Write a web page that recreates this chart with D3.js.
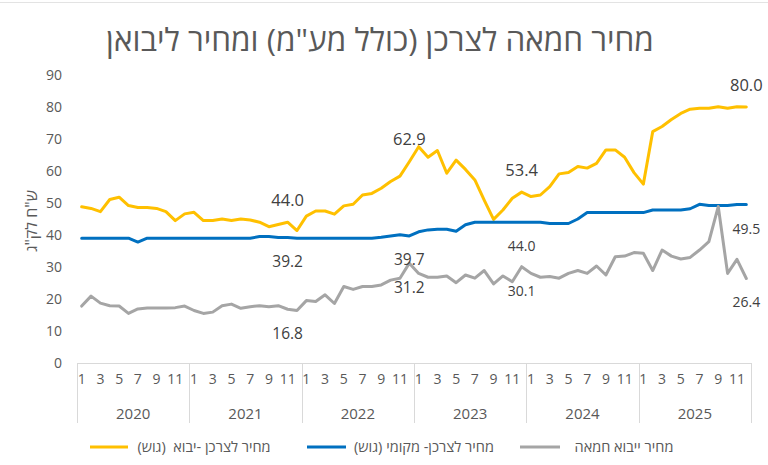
<!DOCTYPE html>
<html>
<head>
<meta charset="utf-8">
<script src="https://cdn.jsdelivr.net/npm/d3@7"></script>
<style>
body { margin: 0; background: #fff; }
text { font-family: "Open Sans", "Liberation Sans", sans-serif; }
</style>
</head>
<body>
<svg id="chart" width="768" height="465"></svg>
<script>
let years = ['2020', '2021', '2022', '2023', '2024', '2025']
let month_numbers = [1, 2, 3, 4, 5, 6, 7, 8, 9, 10, 11, 12]
let shown_months = [1, 3, 5, 7, 9, 11]

// consumer price, imported butter (block)
let retail_import = [
    48.8, 48.3, 47.3, 51.1, 51.8, 49.2, 48.6, 48.6, 48.3, 47.3, 44.5, 46.6,
    47.1, 44.5, 44.5, 45.0, 44.5, 45.0, 44.7, 44.0, 42.6, 43.3, 44.0, 41.4,
    45.9, 47.5, 47.5, 46.5, 49.1, 49.6, 52.5, 53.0, 54.6, 56.7, 58.4, 62.9,
    67.6, 64.3, 66.4, 59.3, 63.4, 60.5, 57.2, 50.9, 44.9, 47.8, 51.5, 53.4,
    52.0, 52.5, 55.1, 59.1, 59.5, 61.4, 60.9, 62.4, 66.6, 66.6, 64.3, 59.5,
    55.9, 72.3, 73.9, 76.1, 78.0, 79.3, 79.6, 79.6, 80.1, 79.6, 80.1, 80.0
]
// consumer price, local butter (block)
let retail_local = [
    39.0, 39.0, 39.0, 39.0, 39.0, 39.0, 37.8, 39.0, 39.0, 39.0, 39.0, 39.0,
    39.0, 39.0, 39.0, 39.0, 39.0, 39.0, 39.0, 39.5, 39.5, 39.2, 39.2, 39.0,
    39.0, 39.0, 39.0, 39.0, 39.0, 39.0, 39.0, 39.0, 39.3, 39.7, 40.1, 39.7,
    41.0, 41.6, 41.8, 41.8, 41.2, 43.2, 44.0, 44.0, 44.0, 44.0, 44.0, 44.0,
    44.0, 44.0, 43.6, 43.6, 43.6, 45.0, 47.0, 47.0, 47.0, 47.0, 47.0, 47.0,
    47.0, 47.8, 47.8, 47.8, 47.8, 48.2, 49.6, 49.2, 49.2, 49.2, 49.5, 49.5
]
// import price of butter
let import_price = [
    17.8, 20.9, 18.7, 17.9, 17.8, 15.5, 16.9, 17.2, 17.2, 17.2, 17.3, 17.8,
    16.4, 15.5, 15.9, 17.9, 18.4, 17.1, 17.6, 17.9, 17.6, 17.9, 16.8, 16.4,
    19.5, 19.2, 21.3, 18.6, 23.9, 23.0, 23.9, 23.9, 24.4, 25.9, 26.5, 31.2,
    28.0, 26.8, 26.8, 27.2, 25.1, 27.5, 26.5, 28.9, 24.7, 27.2, 25.4, 30.1,
    28.0, 26.8, 27.0, 26.5, 28.0, 28.9, 28.0, 30.3, 27.5, 33.2, 33.4, 34.5,
    34.3, 28.9, 35.3, 33.4, 32.5, 33.0, 35.3, 37.9, 48.9, 28.0, 32.4, 26.4
]
let series_names = ['מחיר לצרכן -יבוא  (גוש)', 'מחיר לצרכן- מקומי (גוש)', 'מחיר ייבוא חמאה']
let label_points = [22, 35, 47, 71]
let y_ticks = [0, 10, 20, 30, 40, 50, 60, 70, 80, 90]

let colors = ['#FFC000', '#0070C0', '#A5A5A5']
let text_color = '#595959'

let months = d3.cross(years, month_numbers, (yr, m) => ({year: yr, month: m}))
let series = [retail_import, retail_local, import_price]

let left = 77
let right = 751
let bottom = 363
let top_y = 75

let svg = d3.select('#chart')

let x = d3.scaleBand()
    .domain(d3.range(months.length))
    .range([left, right])
    .padding(0)

let x_year = d3.scaleBand()
    .domain(years)
    .range([left, right])

let y = d3.scaleLinear()
    .domain([0, 90])
    .range([bottom, top_y])

let cx = i => x(i) + x.bandwidth() / 2

svg.append('line')
    .attr('x1', 0).attr('x2', 768)
    .attr('y1', 2.5).attr('y2', 2.5)
    .attr('stroke', '#e3e3e3')

// title
svg.append('text')
    .attr('x', 380)
    .attr('y', 51)
    .attr('text-anchor', 'middle')
    .style('direction', 'rtl')
    .style('font-size', '31.5px')
    .attr('fill', text_color)
    .text('מחיר חמאה לצרכן (כולל מע"מ) ומחיר ליבואן')

// y axis (labels only)
let y_axis = svg.append('g')
    .attr('transform', `translate(${left},0)`)
    .call(d3.axisLeft(y).tickValues(y_ticks).tickSize(0).tickPadding(15))
y_axis.select('.domain').remove()
y_axis.selectAll('text')
    .attr('fill', text_color)
    .style('font-size', '14px')
    .style('font-family', '"Open Sans", "Liberation Sans", sans-serif')

svg.append('text')
    .attr('transform', `translate(31, 221) rotate(-90)`)
    .attr('text-anchor', 'middle')
    .attr('dy', '0.35em')
    .style('direction', 'rtl')
    .style('font-size', '16px')
    .attr('fill', text_color)
    .text('ש"ח לק"ג')

// x axis: base line, year dividers, month and year labels
svg.append('line')
    .attr('x1', left).attr('x2', right)
    .attr('y1', bottom + 0.5).attr('y2', bottom + 0.5)
    .attr('stroke', '#d9d9d9')

let dividers = years.map(yr => x_year(yr)).concat([right])
svg.selectAll('.divider')
    .data(dividers)
    .join('line')
    .classed('divider', true)
    .attr('x1', d => Math.round(d) + 0.5).attr('x2', d => Math.round(d) + 0.5)
    .attr('y1', bottom).attr('y2', 423)
    .attr('stroke', '#d9d9d9')

let x_axis = svg.append('g')
    .attr('transform', `translate(0,${bottom})`)
    .call(d3.axisBottom(x)
        .tickValues(d3.range(months.length).filter(i => shown_months.includes(months[i].month)))
        .tickFormat(i => months[i].month)
        .tickSize(0)
        .tickPadding(11))
x_axis.select('.domain').remove()
x_axis.selectAll('text')
    .attr('fill', text_color)
    .style('font-size', '14px')
    .style('font-family', '"Open Sans", "Liberation Sans", sans-serif')

svg.selectAll('.year-label')
    .data(years)
    .join('text')
    .classed('year-label', true)
    .attr('x', d => x_year(d) + x_year.bandwidth() / 2)
    .attr('y', 414)
    .attr('dy', '0.35em')
    .attr('text-anchor', 'middle')
    .attr('fill', text_color)
    .style('font-size', '15px')
    .text(d => d)

// lines
let line = d3.line()
    .x((d, i) => cx(i))
    .y(d => y(d))

svg.selectAll('.series')
    .data(series)
    .join('path')
    .classed('series', true)
    .attr('fill', 'none')
    .attr('stroke', (d, k) => colors[k])
    .attr('stroke-width', 3)
    .attr('stroke-linejoin', 'round')
    .attr('stroke-linecap', 'round')
    .attr('d', line)

// data labels: orange above, the others below
series.forEach((values, k) => {
    svg.selectAll(`.label-${k}`)
        .data(label_points)
        .join('text')
        .classed(`label-${k}`, true)
        .attr('x', i => cx(i))
        .attr('y', i => y(values[i]) + (k === 0 ? -22 : 24))
        .attr('dy', '0.35em')
        .attr('text-anchor', 'middle')
        .attr('fill', '#404040')
        .style('font-size', i => (k === 0 ? 16.5 : (i >= 47 ? 14 : 15.5)) + 'px')
        .text(i => d3.format('.1f')(values[i]))
})

// legend
let legend_items = [
    {line: [90, 128], text: 204},
    {line: [307, 346], text: 424},
    {line: [520, 560], text: 624}
]
let legend = svg.append('g').classed('legend', true)
legend_items.forEach((it, k) => {
    legend.append('line')
        .attr('x1', it.line[0]).attr('x2', it.line[1])
        .attr('y1', 447).attr('y2', 447)
        .attr('stroke', colors[k])
        .attr('stroke-width', 3)
    legend.append('text')
        .attr('x', it.text)
        .attr('y', 447)
        .attr('dy', '0.35em')
        .attr('text-anchor', 'middle')
        .style('direction', 'rtl')
        .style('white-space', 'pre')
        .style('font-size', '14.5px')
        .attr('fill', text_color)
        .text(series_names[k])
})
</script>
</body>
</html>
